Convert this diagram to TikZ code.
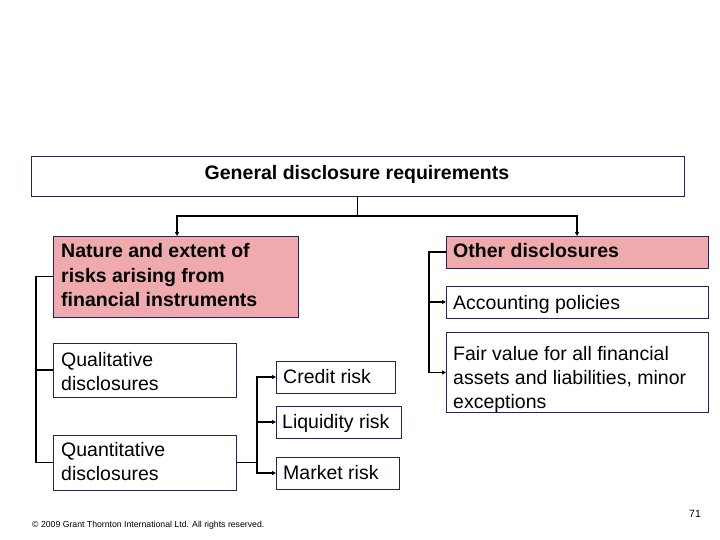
\documentclass[tikz,border=0pt]{standalone}
\usepackage{fontspec}
\setmainfont{Liberation Sans}
\usetikzlibrary{arrows.meta}
\definecolor{pinkf}{HTML}{EFAAAE}
\definecolor{bord}{HTML}{2A2060}
\begin{document}
\begin{tikzpicture}[x=1pt,y=-1pt,
 box/.style={draw=bord,line width=0.8pt,inner sep=0pt,outer sep=0pt},
 lbl/.style={anchor=base west,inner sep=0pt,font=\fontsize{19.5}{24}\selectfont},
 blbl/.style={lbl,font=\bfseries\fontsize{19.5}{24}\selectfont},
 conn/.style={line width=1.2pt},
 arr/.style={conn,-{Triangle[length=4pt,width=4pt]}}]
\useasboundingbox (0,0) rectangle (720,540);
\node[box,minimum width=653,minimum height=40] (gen) at (357.5,176) {};
\node[anchor=base,inner sep=0pt,font=\bfseries\fontsize{19.5}{24}\selectfont] (gent) at (357,180) {General disclosure requirements};
\node[box,fill=pinkf,minimum width=245,minimum height=81] (nat) at (175.5,276.5) {};
\node[blbl] (n1) at (61,258) {Nature and extent of};
\node[blbl] (n2) at (61,282) {risks arising from};
\node[blbl] (n3) at (61,306) {financial instruments};
\node[box,fill=pinkf,minimum width=262,minimum height=32] (oth) at (577,252) {};
\node[blbl] (ot) at (453,258) {Other disclosures};
\node[box,minimum width=262,minimum height=32] (acc) at (577,302) {};
\node[lbl] (at) at (453,309) {Accounting policies};
\node[box,minimum width=262,minimum height=80] (fv) at (577,372.5) {};
\node[lbl] (f1) at (453,360) {Fair value for all financial};
\node[lbl] (f2) at (453,384) {assets and liabilities, minor};
\node[lbl] (f3) at (453,408) {exceptions};
\node[box,minimum width=183,minimum height=54] (qual) at (144.5,370) {};
\node[lbl] (q1) at (61,366) {Qualitative};
\node[lbl] (q2) at (61,390) {disclosures};
\node[box,minimum width=183,minimum height=55] (quan) at (144.5,462.5) {};
\node[lbl] (u1) at (61,456) {Quantitative};
\node[lbl] (u2) at (61,480) {disclosures};
\node[box,minimum width=119,minimum height=32] (cr) at (335.5,377) {};
\node[lbl] (crt) at (283,383) {Credit risk};
\node[box,minimum width=125,minimum height=32] (liq) at (338.5,422) {};
\node[lbl] (lit) at (282,428) {Liquidity risk};
\node[box,minimum width=123,minimum height=32] (mar) at (337.5,473) {};
\node[lbl] (mat) at (283,479) {Market risk};
\coordinate (tj) at (gen.south |- 0,216);
\draw[conn] (gen.south) -- (tj);
\draw[arr] (tj) -| (177,236);
\draw[arr] (tj) -| (577,236);
\draw[conn] (nat.west) -- (36,276.5) |- (qual.west);
\draw[conn] (36,370) |- (quan.west);
\coordinate (qj) at (257,462.5);
\draw[conn] (quan.east) -- (qj);
\draw[arr] (qj) |- (cr.west);
\draw[arr] (qj) |- (liq.west);
\draw[arr] (qj) |- (mar.west);
\coordinate (oj) at (429,302);
\draw[conn] (oth.west) -- (429,252) -- (oj);
\draw[arr] (oj) -- (acc.west);
\draw[arr] (oj) |- (fv.west);
\node[anchor=base west,inner sep=0pt,font=\fontsize{8.7}{10}\selectfont] (ft) at (32,527) {© 2009 Grant Thornton International Ltd. All rights reserved.};
\node[inner sep=0pt,font=\fontsize{10.5}{12}\selectfont] (pg) at (695,514) {71};
\end{tikzpicture}
\end{document}
